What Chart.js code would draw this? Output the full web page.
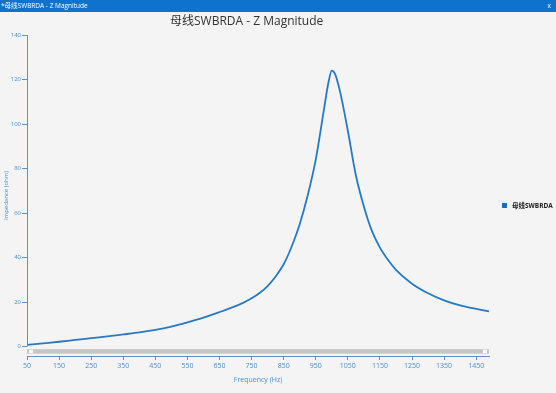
<!DOCTYPE html>
<html>
<head>
<meta charset="utf-8">
<script src="https://cdn.jsdelivr.net/npm/chart.js@4.4.1/dist/chart.umd.min.js"></script>
<style>
  html, body { margin: 0; padding: 0; background: #f4f4f4; }
  #wrap { position: relative; width: 556px; height: 393px; overflow: hidden; font-family: "Open Sans", "Noto Sans CJK SC", sans-serif; }
  #bar { position: absolute; left: 0; top: 0; width: 556px; height: 12px; background: #0f72cc; color: #fff; font-size: 6.5px; line-height: 12px; }
  #bar span { position: absolute; left: 1px; }
  #bar b { position: absolute; right: 5px; font-weight: normal; }
  #title { position: absolute; left: 170px; top: 11px; font-size: 12px; color: #333; white-space: nowrap; }
  #legend { position: absolute; left: 502px; top: 200px; font-size: 6.5px; font-weight: bold; color: #222; white-space: nowrap; }
  #legend i { display: inline-block; width: 5px; height: 5px; background: #1a6fb8; margin-right: 5px; vertical-align: 0px; }
  canvas { position: absolute; left: 0; top: 0; }
</style>
</head>
<body>
<div id="wrap">
  <canvas id="chart" width="556" height="393"></canvas>
  <div id="bar"><span>*母线SWBRDA - Z Magnitude</span><b>x</b></div>
  <div id="title">母线SWBRDA - Z Magnitude</div>
  <div id="legend"><i></i>母线SWBRDA</div>
</div>
<script>
// frequency (Hz) and impedance (ohm)
const freqs = [50, 100, 150, 200, 250, 300, 350, 400, 450, 500, 550, 600, 650, 700, 725, 750, 775, 800, 825, 850, 875, 900, 925, 950, 975, 990, 1000, 1010, 1025, 1050, 1075, 1100, 1125, 1150, 1175, 1200, 1250, 1300, 1350, 1400, 1450, 1490];
const impedance = [0.8, 1.5, 2.2, 3.0, 3.8, 4.6, 5.5, 6.4, 7.5, 9.0, 10.9, 13.0, 15.5, 18.2, 19.8, 21.7, 24.1, 27.2, 31.5, 37, 45, 55, 68, 84, 106, 119, 124, 122.5, 115, 97, 77, 63, 52, 44.5, 39, 34.5, 28.3, 24, 20.8, 18.5, 17, 15.8];
const xTicks = [50, 150, 250, 350, 450, 550, 650, 750, 850, 950, 1050, 1150, 1250, 1350, 1450];
const yTicks = [0, 20, 40, 60, 80, 100, 120, 140];

const axisBlue = "#5b93c7";
const labelBlue = "#4a8fcf";

// y axis line (stops at 0) and the scroll bar strip above the x axis
const extras = {
  id: "extras",
  afterDraw(chart) {
    const ctx = chart.ctx;
    const a = chart.chartArea;
    const y = chart.scales.y;
    const zero = y.getPixelForValue(0);
    ctx.save();
    ctx.strokeStyle = axisBlue;
    ctx.lineWidth = 1;
    ctx.beginPath();
    ctx.moveTo(a.left + 0.5, y.getPixelForValue(140));
    ctx.lineTo(a.left + 0.5, zero);
    ctx.stroke();
    ctx.fillStyle = "#c6c6c6";
    ctx.fillRect(a.left, zero + 2.5, a.right - a.left, 4.5);
    ctx.fillStyle = "#fafafa";
    ctx.fillRect(a.left + 2, zero + 3, 4, 3.5);
    ctx.fillRect(a.right - 6, zero + 3, 4, 3.5);
    ctx.restore();
  }
};

new Chart(document.getElementById("chart"), {
  type: "line",
  data: {
    datasets: [{
      label: "母线SWBRDA",
      data: freqs.map((f, i) => ({ x: f, y: impedance[i] })),
      borderColor: "#2679c2",
      borderWidth: 1.8,
      pointRadius: 0,
      cubicInterpolationMode: "monotone"
    }]
  },
  options: {
    responsive: false,
    animation: false,
    layout: { padding: { top: 35, right: 67, bottom: 9, left: 3 } },
    plugins: { legend: { display: false }, title: { display: false }, tooltip: { enabled: false } },
    scales: {
      x: {
        type: "linear",
        min: 50,
        max: 1490,
        afterBuildTicks: s => { s.ticks = xTicks.map(v => ({ value: v })); },
        afterFit: s => { s.height = 28; },
        grid: { drawOnChartArea: false, tickLength: 4, color: axisBlue },
        border: { color: axisBlue },
        ticks: { color: labelBlue, font: { size: 7, family: "Open Sans" }, padding: 2, maxRotation: 0, callback: v => String(v) },
        title: { display: true, text: "Frequency (Hz)", color: labelBlue, font: { size: 7, family: "Open Sans" }, padding: 0 }
      },
      y: {
        min: -4.2,
        max: 140,
        afterBuildTicks: s => { s.ticks = yTicks.map(v => ({ value: v })); },
        afterFit: s => { s.width = 24; },
        grid: { drawOnChartArea: false, tickLength: 5, color: axisBlue },
        border: { display: false },
        ticks: { color: labelBlue, font: { size: 6, family: "Open Sans" }, padding: 1 },
        title: { display: true, text: "Impedance (ohm)", color: labelBlue, font: { size: 6, family: "Open Sans" }, padding: 0 }
      }
    }
  },
  plugins: [extras]
});
</script>
</body>
</html>
